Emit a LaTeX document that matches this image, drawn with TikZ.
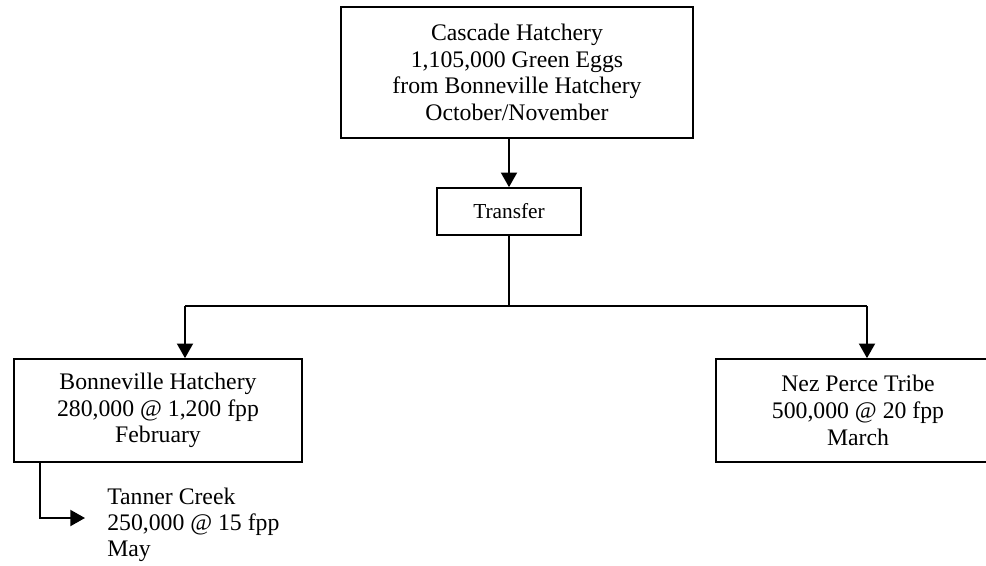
\documentclass[tikz,border=0pt]{standalone}
\usepackage{fontspec}
\setmainfont{Liberation Serif}
\usetikzlibrary{positioning,calc,arrows.meta}

\begin{document}
\begin{tikzpicture}[
                x=0.75pt, y=-0.75pt,
                bigbox/.style={rectangle, draw=black, line width=1.5pt, align=center, inner sep=0pt, font=\fontsize{17.8}{20}\selectfont},
                smallbox/.style={rectangle, draw=black, line width=1.5pt, align=center, inner sep=0pt, font=\fontsize{16}{19}\selectfont},
                plaintext/.style={align=left, inner xsep=16.5pt, inner ysep=0pt, font=\fontsize{17.8}{19.5}\selectfont},
                flow/.style={line width=1.5pt, -{Triangle[width=12pt,length=11pt]}},
            ]
            \useasboundingbox (0,0) rectangle (986,565);
            %Nodes
            \node[bigbox, minimum width=264pt, minimum height=98pt] (cascade) at (517,72.5)
                {Cascade Hatchery\\1,105,000 Green Eggs\\from Bonneville Hatchery\\October/November};
            \node[smallbox, minimum width=108pt, minimum height=35pt] (transfer) at (509,211.5) {Transfer};
            \node[bigbox, minimum width=216pt, minimum height=77pt] (bonneville) at (158,410.5)
                {Bonneville Hatchery\\280,000 @ 1,200 fpp\\February};
            \node[bigbox, minimum width=213pt, minimum height=77pt] (nezperce) at (858,410.5)
                {Nez Perce Tribe\\500,000 @ 20 fpp\\March};
            \node[plaintext, anchor=west] (tanner) at (85,524.5)
                {Tanner Creek\\250,000 @ 15 fpp\\May};

            \coordinate (split) at (509,306);
            \coordinate (lbranch) at (185,306);
            \coordinate (rbranch) at (867,306);
            \coordinate (bend) at (40,518);

            %Lines
            \draw[flow] (cascade.south -| transfer.north) -- (transfer.north);
            \draw[line width=1.5pt] (transfer.south) -- (split);
            \draw[line width=1.5pt] (lbranch) -- (rbranch);
            \draw[flow] (lbranch) -- (lbranch |- bonneville.north);
            \draw[flow] (rbranch) -- (rbranch |- nezperce.north);
            \draw[flow] (bend |- bonneville.south) -- (bend) -- (tanner.west |- bend);
        \end{tikzpicture}
\end{document}
